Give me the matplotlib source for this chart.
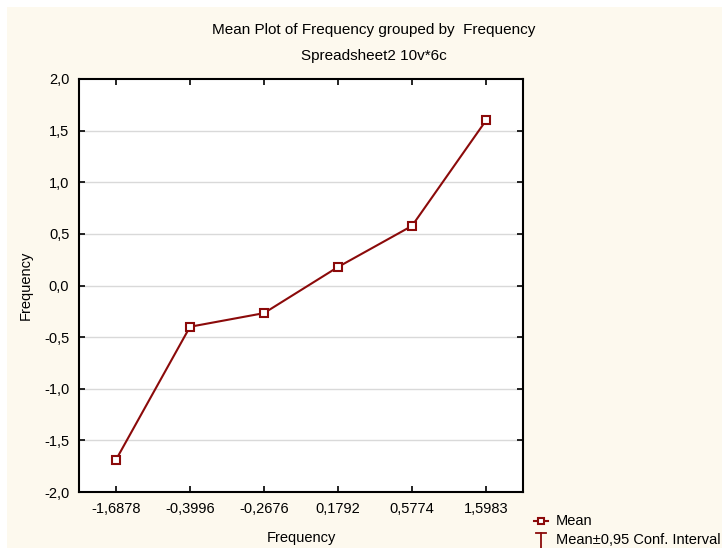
import matplotlib.pyplot as plt
from matplotlib.patches import Rectangle
from matplotlib.lines import Line2D

plt.rcParams["font.family"] = ["Liberation Sans", "DejaVu Sans"]

categories = ["-1,6878", "-0,3996", "-0,2676", "0,1792", "0,5774", "1,5983"]
means = [-1.6878, -0.3996, -0.2676, 0.1792, 0.5774, 1.5983]
y_ticks = [-2.0, -1.5, -1.0, -0.5, 0.0, 0.5, 1.0, 1.5, 2.0]

W, H = 722, 548
line_color = "#8b0a0a"
cream = "#fdf9ee"

fig = plt.figure(figsize=(W / 100, H / 100), dpi=100, facecolor="white")
fig.patches.append(Rectangle((7 / W, 0), 1, 1 - 7 / H, transform=fig.transFigure,
                             facecolor=cream, edgecolor="none", zorder=-10))

ax = fig.add_axes([79 / W, 1 - 492 / H, (523 - 79) / W, (492 - 79) / H])
ax.set_facecolor("white")

x = list(range(len(categories)))
ax.plot(x, means, color=line_color, lw=1.5, marker="s", ms=6,
        mfc="white", mec=line_color, mew=1.5, zorder=3)

ax.set_xlim(-0.5, len(categories) - 0.5)
ax.set_ylim(-2.0, 2.0)
ax.set_xticks(x)
ax.set_xticklabels(categories)
ax.set_yticks(y_ticks)
ax.set_yticklabels([f"{v:.1f}".replace(".", ",") for v in y_ticks])
for v in y_ticks[1:-1]:
    ax.axhline(v, color="#d9d9d9", lw=1, zorder=1)

ax.tick_params(direction="in", length=4, width=1.2, top=True, right=True,
               labelsize=10.5, pad=7, colors="black")
for s in ax.spines.values():
    s.set_linewidth(1.5)

# the reference clips this label at the bottom edge; keep it just inside
ax.set_xlabel("Frequency", fontsize=10.5, labelpad=11)
ax.set_ylabel("Frequency", fontsize=10.5, labelpad=8)

fig.text(374 / W, 1 - 30 / H, "Mean Plot of Frequency grouped by  Frequency",
         ha="center", va="center", fontsize=11)
fig.text(374 / W, 1 - 56 / H, "Spreadsheet2 10v*6c",
         ha="center", va="center", fontsize=11)

# legend outside the axes, bottom right
fig.lines.append(Line2D([534 / W, 548 / W], [1 - 521 / H] * 2, transform=fig.transFigure,
                        color=line_color, lw=1.5))
fig.lines.append(Line2D([541 / W], [1 - 521 / H], transform=fig.transFigure,
                        marker="s", ms=5, mfc="white", mec=line_color, mew=1.5,
                        color=line_color, lw=0))
fig.text(556 / W, 1 - 521 / H, "Mean", ha="left", va="center", fontsize=10.5)
fig.lines.append(Line2D([536 / W, 546 / W], [1 - 533 / H] * 2, transform=fig.transFigure,
                        color=line_color, lw=1.3))
fig.lines.append(Line2D([541 / W, 541 / W], [1 - 533 / H, 1 - 548 / H],
                        transform=fig.transFigure, color=line_color, lw=1.3))
fig.text(556 / W, 1 - 540 / H, "Mean\u00b10,95 Conf. Interval", ha="left",
         va="center", fontsize=10.5)

fig.savefig("out.png", dpi=100, facecolor=fig.get_facecolor())
